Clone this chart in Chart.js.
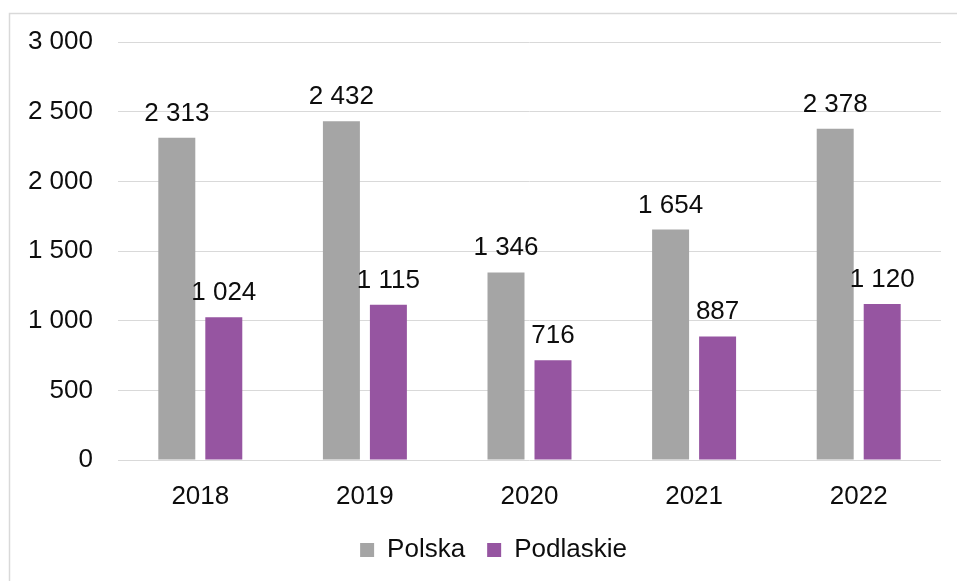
<!DOCTYPE html>
<html>
<head>
<meta charset="utf-8">
<script src="https://cdn.jsdelivr.net/npm/chart.js@4"></script>
<style>
  body { margin: 0; background: #fff; }
  canvas { display: block; }
</style>
</head>
<body>
<canvas id="myChart" width="957" height="581"></canvas>
<script>
// DATA ----------------------------------------------------------------------
var years = ["2018", "2019", "2020", "2021", "2022"];
var polska = [2313, 2432, 1346, 1654, 2378];
var podlaskie = [1024, 1115, 716, 887, 1120];
var yTicks = [0, 500, 1000, 1500, 2000, 2500, 3000];

// thousands with a space, e.g. 2 313
function fmt(v){
  return String(v).replace(/\B(?=(\d{3})+(?!\d))/g, " ");
}

// FRAME ---------------------------------------------------------------------
var framePlugin = {
  id: "frame",
  beforeDraw: function(chart){
    var ctx = chart.ctx;
    ctx.save();
    ctx.strokeStyle = "#d9d9d9";
    ctx.lineWidth = 1.5;
    ctx.beginPath();
    ctx.moveTo(9.5, chart.height);
    ctx.lineTo(9.5, 13.5);
    ctx.lineTo(chart.width, 13.5);
    ctx.stroke();
    ctx.restore();
  },
  // the legend sits centred on the frame, a bit right of the canvas middle
  afterLayout: function(chart){
    chart.legend.left += 23;
    chart.legend.right += 23;
  }
};

// VALUE LABELS --------------------------------------------------------------
var valueLabels = {
  id: "valueLabels",
  afterDatasetsDraw: function(chart){
    var ctx = chart.ctx;
    ctx.save();
    ctx.font = "26px 'Liberation Sans', Arial, sans-serif";
    ctx.fillStyle = "#0d0d0d";
    ctx.textAlign = "center";
    ctx.textBaseline = "alphabetic";
    chart.data.datasets.forEach(function(ds, i){
      chart.getDatasetMeta(i).data.forEach(function(bar, j){
        ctx.fillText(fmt(ds.data[j]), bar.x, bar.y - 17);
      });
    });
    ctx.restore();
  }
};

// CHART ---------------------------------------------------------------------
function createBarChart(){
  Chart.defaults.font.family = "'Liberation Sans', Arial, sans-serif";
  Chart.defaults.font.size = 26;
  Chart.defaults.color = "#0d0d0d";

  var ctx = document.getElementById("myChart").getContext("2d");
  var chart = new Chart(ctx, {
    type: "bar",
    data: {
      labels: years,
      datasets: [{
        label: "Polska",
        data: polska,
        backgroundColor: "#a5a5a5"
      }, {
        label: "Podlaskie",
        data: podlaskie,
        backgroundColor: "#9655a1"
      }]
    },
    options: {
      responsive: false,
      animation: false,
      devicePixelRatio: 1,
      categoryPercentage: 0.571,
      barPercentage: 0.787,
      layout: {
        padding: { left: 0, right: 16, top: 42, bottom: 8 }
      },
      plugins: {
        tooltip: { enabled: false },
        legend: {
          position: "bottom",
          labels: {
            boxWidth: 14,
            boxHeight: 14,
            padding: 22
          }
        }
      },
      scales: {
        x: {
          grid: { display: false },
          border: { display: false },
          ticks: { padding: 13 },
          afterFit: function(s){ s.height = 55; }
        },
        y: {
          min: 0,
          max: 3000,
          afterBuildTicks: function(s){
            s.ticks = yTicks.map(function(v){ return { value: v }; });
          },
          grid: { color: "#d9d9d9", lineWidth: 1, drawTicks: false },
          border: { display: false },
          ticks: {
            padding: 25,
            callback: function(v){ return fmt(v); }
          },
          afterFit: function(s){ s.width = 118; }
        }
      }
    },
    plugins: [framePlugin, valueLabels]
  });
  return chart;
}

// INIT ----------------------------------------------------------------------
createBarChart();
</script>
</body>
</html>
